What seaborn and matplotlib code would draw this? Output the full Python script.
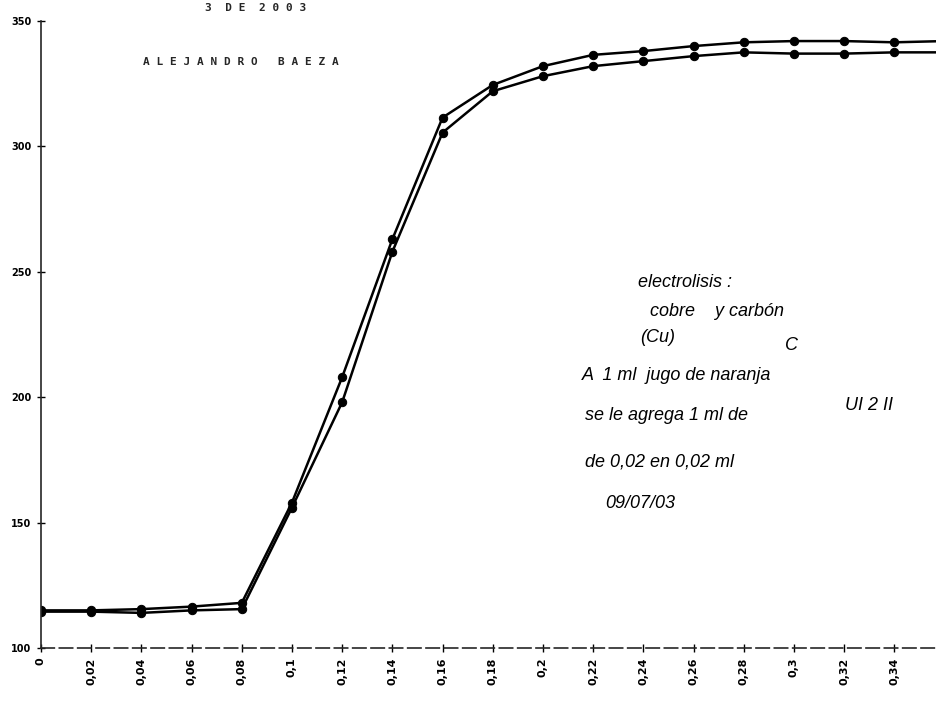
import matplotlib
matplotlib.use("Agg")
import matplotlib.pyplot as plt
import pandas as pd
import seaborn as sns

volumen = [0, 0.02, 0.04, 0.06, 0.08, 0.10, 0.12, 0.14, 0.16, 0.18,
           0.20, 0.22, 0.24, 0.26, 0.28, 0.30, 0.32, 0.34, 0.36]
serie_1 = [115, 115, 115.5, 116.5, 118, 158, 208, 263, 311.5, 324.5,
           332, 336.5, 338, 340, 341.5, 342, 342, 341.5, 342]
serie_2 = [114.5, 114.5, 114, 115, 115.5, 156, 198, 258, 305.5, 322,
           328, 332, 334, 336, 337.5, 337, 337, 337.5, 337.5]

x_ticks = [0, 0.02, 0.04, 0.06, 0.08, 0.10, 0.12, 0.14, 0.16, 0.18,
           0.20, 0.22, 0.24, 0.26, 0.28, 0.30, 0.32, 0.34]
x_labels = ["0", "0,02", "0,04", "0,06", "0,08", "0,1", "0,12", "0,14", "0,16",
            "0,18", "0,2", "0,22", "0,24", "0,26", "0,28", "0,3", "0,32", "0,34"]
y_ticks = [100, 150, 200, 250, 300, 350]

df = pd.DataFrame({
    "volumen": volumen * 2,
    "mV": serie_1 + serie_2,
    "serie": ["1"] * len(volumen) + ["2"] * len(volumen),
})

sns.set_style("ticks")
W, H = 937, 706
fig = plt.figure(figsize=(W / 100, H / 100), dpi=100)
ax = fig.add_axes([41 / W, 58 / H, (W - 41) / W, (648 - 21) / H])

sns.lineplot(data=df, x="volumen", y="mV", hue="serie", palette=["black", "black"],
             marker="o", markersize=6, markeredgecolor="black", linewidth=1.8,
             legend=False, ax=ax)

ax.set_xlim(0, 0.357)
ax.set_ylim(100, 350)
ax.set_xticks(x_ticks)
ax.set_xticklabels(x_labels, rotation=90, fontsize=8, fontweight="bold")
ax.set_yticks(y_ticks)
ax.set_yticklabels([str(v) for v in y_ticks], fontsize=7, fontweight="bold")
ax.tick_params(axis="both", direction="inout", length=6, width=1, colors="black", pad=4)
ax.set_xlabel("")
ax.set_ylabel("")
sns.despine(ax=ax)
ax.spines["left"].set_linewidth(1.2)
ax.spines["bottom"].set_linewidth(1.2)
ax.spines["bottom"].set_linestyle((0, (8, 3)))


def fig_text(px, py, s, **kw):
    fig.text(px / W, 1 - py / H, s, **kw)


# header of the scanned sheet
fig_text(205, 8, "3  D E  2 0 0 3", fontsize=8, fontweight="bold", family="DejaVu Sans Mono", va="center")
fig_text(143, 62, "A L E J A N D R O   B A E Z A", fontsize=8, fontweight="bold",
         family="DejaVu Sans Mono", va="center")

# handwritten notes
hand = dict(fontsize=13, fontstyle="italic", family="Liberation Sans", va="center", color="black")
fig_text(638, 282, "electrolisis :", **hand)
fig_text(650, 312, "cobre    y carbón", **hand)
fig_text(640, 338, "(Cu)", **hand)
fig_text(785, 345, "C", **hand)
fig_text(582, 375, "A  1 ml  jugo de naranja", **hand)
fig_text(585, 415, "se le agrega 1 ml de", **hand)
fig_text(845, 405, "UI 2 II", **hand)
fig_text(585, 462, "de 0,02 en 0,02 ml", **hand)
fig_text(605, 503, "09/07/03", **hand)

fig.savefig("out.png", dpi=100, facecolor="white")
